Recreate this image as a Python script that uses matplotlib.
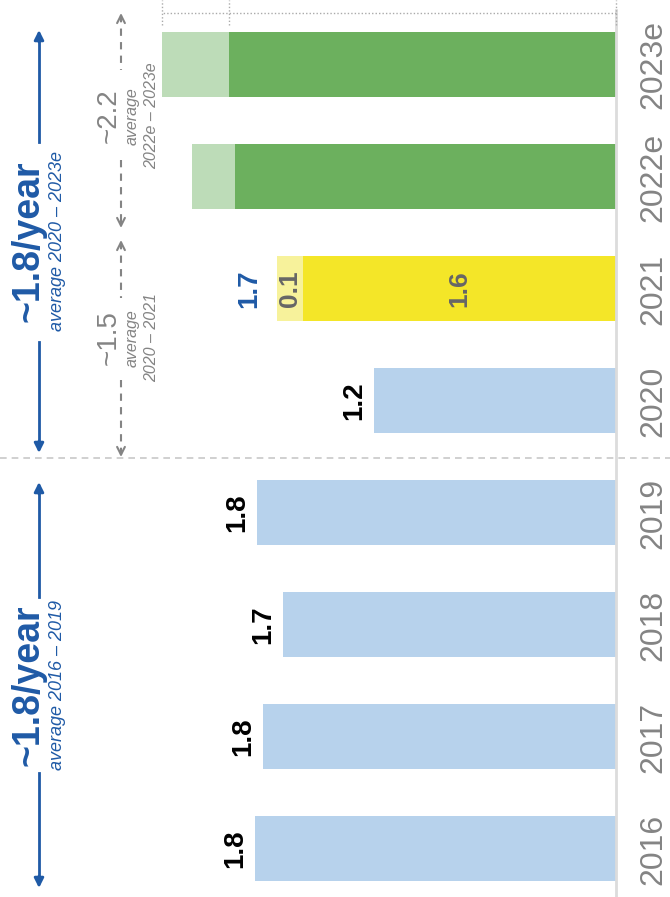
import matplotlib
matplotlib.use("Agg")
import matplotlib.pyplot as plt
from matplotlib.lines import Line2D

plt.rcParams['font.family'] = ['Liberation Sans', 'DejaVu Sans']

# ----------------------------------------------------------------------
# Data
# ----------------------------------------------------------------------
years = ['2016', '2017', '2018', '2019', '2020', '2021', '2022e', '2023e']
base_values = [1.79, 1.75, 1.65, 1.78, 1.20, 1.55, 1.89, 1.92]
extra_values = [0, 0, 0, 0, 0, 0.13, 0.21, 0.33]
total_labels = ['1.8', '1.8', '1.7', '1.8', '1.2', '1.7', '', '']
segment_labels_2021 = ['1.6', '0.1']

period_labels = ['~1.8/year', '~1.8/year']
period_notes = ['average 2016 – 2019', 'average 2020 – 2023e']
sub_labels = ['~1.5', '~2.2']
sub_notes = ['2020 – 2021', '2022e – 2023e']

# ----------------------------------------------------------------------
# Style
# ----------------------------------------------------------------------
LIGHT_BLUE = '#b7d2ec'
YELLOW = '#f4e628'
LIGHT_YELLOW = '#f7f29b'
GREEN = '#6cb05e'
LIGHT_GREEN = '#bddcb8'
BLUE = '#1f5aa6'
GRAY = '#848484'
DARK_GRAY = '#666666'

base_colors = [LIGHT_BLUE] * 5 + [YELLOW, GREEN, GREEN]
extra_colors = [LIGHT_BLUE] * 5 + [LIGHT_YELLOW, LIGHT_GREEN, LIGHT_GREEN]

W, H = 670, 897


def fx(px):
    return px / W


def fy(py):
    return 1 - py / H


fig = plt.figure(figsize=(W / 100, H / 100), dpi=100)
ax = fig.add_axes([0, 0, 1, 1])
ax.axis('off')

ypos = list(range(len(years)))
ax.barh(ypos, base_values, height=0.58, color=base_colors)
ax.barh(ypos, extra_values, left=base_values, height=0.58, color=extra_colors)
ax.set_xlim(3.054, -0.268)
ax.set_ylim(-0.429, 7.58)

# baseline
ax.axvline(0, ymax=1 - 10 / H, color='#dcdcdc', lw=2)

# dotted bracket over 2023e
top = len(years) - 1
tot_last = base_values[top] + extra_values[top]
ax.plot([0, tot_last], [7.46, 7.46], color='#aaaaaa', lw=1, ls=(0, (1, 1.5)))
for v in [tot_last, base_values[top], 0]:
    ax.plot([v, v], [7.36, 7.58], color='#aaaaaa', lw=1, ls=(0, (1, 1.5)))

# separator between 2019 and 2020
ax.axhline(3.49, color='#c8c8c8', lw=1.2, ls=(0, (4, 3)))

# year labels
for i, y in enumerate(years):
    ax.text(fx(653), i, y, transform=ax.get_yaxis_transform(), rotation=90,
            ha='center', va='center', fontsize=23, color=GRAY)

# total labels
for i, lab in enumerate(total_labels):
    if not lab:
        continue
    end = base_values[i] + extra_values[i]
    col = BLUE if extra_values[i] > 0 else 'black'
    off = -11 if extra_values[i] > 0 else -5
    ax.annotate(lab, (end, i), xytext=(off, 0), textcoords='offset points',
                rotation=90, ha='right', va='center', fontsize=20,
                fontweight='bold', color=col)

# 2021 segment labels
i21 = years.index('2021')
ax.text(base_values[i21] / 2, i21, segment_labels_2021[0], rotation=90,
        ha='center', va='center', fontsize=19, fontweight='bold', color=DARK_GRAY)
ax.text(base_values[i21] + extra_values[i21] / 2, i21, segment_labels_2021[1],
        rotation=90, ha='center', va='center', fontsize=19, fontweight='bold',
        color=DARK_GRAY)


def seg(x, y0, y1, color, lw, ls='-'):
    fig.add_artist(Line2D([fx(x), fx(x)], [fy(y0), fy(y1)], color=color, lw=lw,
                          ls=ls, transform=fig.transFigure))


def head(x, y_from, y_to, color, style, lw, ms):
    ax.annotate('', xy=(fx(x), fy(y_to)), xytext=(fx(x), fy(y_from)),
                xycoords='figure fraction',
                arrowprops=dict(arrowstyle=style, color=color, lw=lw,
                                shrinkA=0, shrinkB=0, mutation_scale=ms))


# blue period arrows (bottom: 2016-2019, top: 2020-2023e)
blue_spans = [(482, 597, 773, 888, 685), (30, 142, 342, 453, 241)]
for k, (a, b, c, d, mid) in enumerate(blue_spans):
    seg(39, a + 8, b, BLUE, 2)
    seg(39, c, d - 8, BLUE, 2)
    head(39, a + 12, a, BLUE, '-|>', 2, 14)
    head(39, d - 12, d, BLUE, '-|>', 2, 14)
    fig.text(fx(28), fy(mid), period_labels[k], rotation=90, ha='center',
             va='center', fontsize=27, fontweight='bold', color=BLUE)
    fig.text(fx(58), fy(mid), period_notes[k], rotation=90, ha='center',
             va='center', fontsize=13, style='italic', color=BLUE)

# gray dashed sub-period arrows (2020-2021, 2022e-2023e)
gray_spans = [(240, 298, 380, 457, 338), (13, 70, 160, 228, 116)]
for k, (a, b, c, d, mid) in enumerate(gray_spans):
    seg(121, a + 2, b, GRAY, 1.5, (0, (3.5, 3)))
    seg(121, c, d - 2, GRAY, 1.5, (0, (3.5, 3)))
    head(121, a + 8, a, GRAY, '->', 1.5, 14)
    head(121, d - 8, d, GRAY, '->', 1.5, 14)
    fig.text(fx(109), fy(mid), sub_labels[k], rotation=90, ha='center',
             va='center', fontsize=20, color=GRAY)
    fig.text(fx(132), fy(mid), 'average', rotation=90, ha='center',
             va='center', fontsize=11.5, style='italic', color=GRAY)
    fig.text(fx(152), fy(mid), sub_notes[k], rotation=90, ha='center',
             va='center', fontsize=11.5, style='italic', color=GRAY)

fig.savefig('out.png', dpi=100)
